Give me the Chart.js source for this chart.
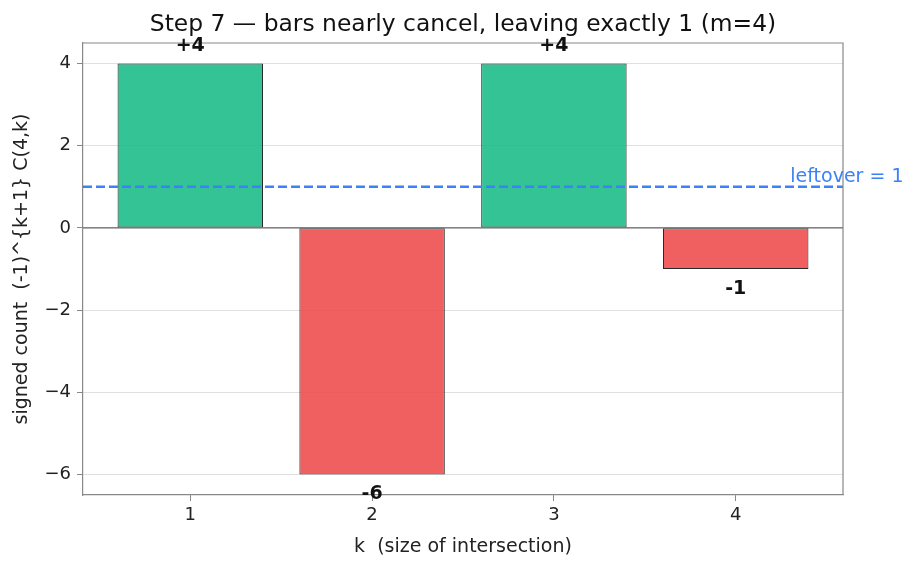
<!DOCTYPE html>
<html>
<head>
<meta charset="utf-8">
<script src="https://cdn.jsdelivr.net/npm/chart.js@4.4.1/dist/chart.umd.min.js"></script>
<style>
  html, body { margin: 0; padding: 0; background: #fff; }
  #wrap { width: 920px; height: 569px; }
</style>
</head>
<body>
<div id="wrap"><canvas id="chart"></canvas></div>
<script>
// data
const kValues = [1, 2, 3, 4];
const signedCounts = [4, -6, 4, -1];
const barLabels = ['+4', '-6', '+4', '-1'];
const yTicks = [-6, -4, -2, 0, 2, 4];
const leftover = 1;
const leftoverLabel = 'leftover = 1';
const leftoverLabelX = 4.3;
const titleText = 'Step 7 \u2014 bars nearly cancel, leaving exactly 1 (m=4)';

const GREEN = 'rgba(16, 185, 129, 0.85)';
const RED = 'rgba(239, 68, 68, 0.85)';
const BLUE = '#3b82f6';
const FONT = "'DejaVu Sans', sans-serif";

const extras = {
    id: 'extras',
    afterDatasetsDraw(chart) {
        const ctx = chart.ctx;
        const area = chart.chartArea;
        const xs = chart.scales.x, ys = chart.scales.y;
        ctx.save();

        // zero line
        const y0 = ys.getPixelForValue(0);
        ctx.strokeStyle = '#666';
        ctx.lineWidth = 1.3;
        ctx.beginPath();
        ctx.moveTo(area.left, y0);
        ctx.lineTo(area.right, y0);
        ctx.stroke();

        // dashed leftover line
        const yl = ys.getPixelForValue(leftover);
        ctx.strokeStyle = BLUE;
        ctx.lineWidth = 2.5;
        ctx.setLineDash([9, 4]);
        ctx.beginPath();
        ctx.moveTo(area.left, yl);
        ctx.lineTo(area.right, yl);
        ctx.stroke();
        ctx.setLineDash([]);

        // top and right spines
        ctx.strokeStyle = '#888';
        ctx.lineWidth = 1.2;
        ctx.beginPath();
        ctx.moveTo(area.left, area.top);
        ctx.lineTo(area.right, area.top);
        ctx.lineTo(area.right, area.bottom);
        ctx.stroke();

        // bar value labels
        ctx.fillStyle = '#111';
        ctx.font = 'bold 19px ' + FONT;
        ctx.textAlign = 'center';
        ctx.textBaseline = 'middle';
        kValues.forEach((k, i) => {
            const v = signedCounts[i];
            const x = xs.getPixelForValue(k);
            const y = ys.getPixelForValue(v);
            ctx.fillText(barLabels[i], x, v >= 0 ? y - 17 : y + 20);
        });

        // leftover label
        ctx.fillStyle = BLUE;
        ctx.font = '19px ' + FONT;
        ctx.textAlign = 'left';
        ctx.textBaseline = 'alphabetic';
        ctx.fillText(leftoverLabel, xs.getPixelForValue(leftoverLabelX), yl - 5);

        // title, centred over the plot area
        ctx.fillStyle = '#111';
        ctx.font = '23.4px ' + FONT;
        ctx.textAlign = 'center';
        ctx.textBaseline = 'alphabetic';
        ctx.fillText(titleText, (area.left + area.right) / 2, 31);
        ctx.restore();
    }
};

const ctx = document.getElementById('chart').getContext('2d');
new Chart(ctx, {
    type: 'bar',
    data: {
        datasets: [{
            data: kValues.map((k, i) => ({ x: k, y: signedCounts[i] })),
            backgroundColor: signedCounts.map(v => v >= 0 ? GREEN : RED),
            borderColor: '#2a2a2a',
            borderWidth: 1,
            borderSkipped: false,
            barPercentage: 0.8,
            categoryPercentage: 1.0
        }]
    },
    options: {
        responsive: true,
        maintainAspectRatio: false,
        animation: false,
        layout: { padding: { top: 43, right: 77, bottom: 0, left: 0 } },
        plugins: {
            legend: { display: false },
            tooltip: { enabled: false },
            title: { display: false }
        },
        scales: {
            x: {
                type: 'linear',
                offset: false,
                min: 0.41,
                max: 4.59,
                afterBuildTicks: s => { s.ticks = kValues.map(v => ({ value: v })); },
                afterFit: s => { s.height = 74; },
                ticks: { color: '#222', font: { family: FONT, size: 18 }, padding: 4 },
                grid: { offset: false, drawOnChartArea: false, tickLength: 6, tickColor: '#888', tickWidth: 1 },
                border: { color: '#888', width: 1.2 },
                title: {
                    display: true,
                    text: 'k  (size of intersection)',
                    color: '#222',
                    font: { family: FONT, size: 19 },
                    padding: { top: 0, bottom: 11 }
                }
            },
            y: {
                min: -6.5,
                max: 4.5,
                afterBuildTicks: s => { s.ticks = yTicks.map(v => ({ value: v })); },
                afterFit: s => { s.width = 83; },
                ticks: {
                    color: '#222',
                    font: { family: FONT, size: 18 },
                    padding: 6,
                    callback: v => v < 0 ? '\u2212' + Math.abs(v) : String(v)
                },
                grid: { color: '#d8d8d8', lineWidth: 0.8, tickLength: 6, tickColor: '#888', tickWidth: 1 },
                border: { color: '#888', width: 1.2 },
                title: {
                    display: true,
                    text: 'signed count  (-1)^{k+1} C(4,k)',
                    color: '#222',
                    font: { family: FONT, size: 19 },
                    padding: { top: 11, bottom: 0 }
                }
            }
        }
    },
    plugins: [extras]
});
</script>
</body>
</html>
